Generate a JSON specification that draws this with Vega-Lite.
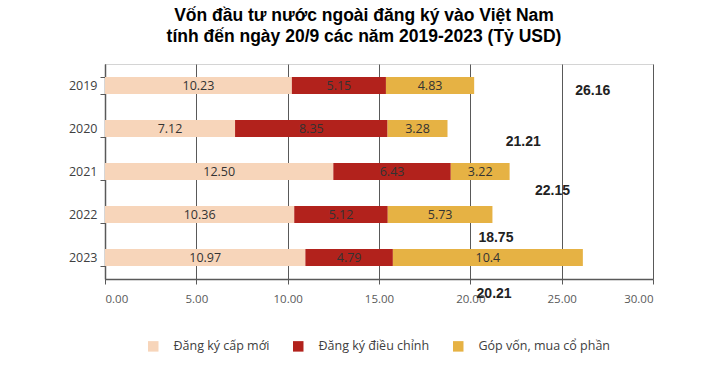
{
  "$schema": "https://vega.github.io/schema/vega-lite/v6.json",
  "width": 548,
  "height": 215,
  "autosize": "none",
  "padding": {"left": 105, "top": 64, "right": 67, "bottom": 111},
  "background": "white",
  "title": {
    "text": ["Vốn đầu tư nước ngoài đăng ký vào Việt Nam", "tính đến ngày 20/9 các năm 2019-2023 (Tỷ USD)"],
    "font": "Liberation Sans",
    "fontSize": 17.5,
    "fontWeight": "bold",
    "color": "#000000",
    "anchor": "middle",
    "dx": -15,
    "offset": 13,
    "lineHeight": 21
  },
  "config": {
    "view": {"stroke": "#d4d4d4", "strokeWidth": 1},
    "axis": {"labelFont": "Open Sans", "domainColor": "#595959", "tickColor": "#595959"}
  },
  "datasets": {
    "von": [
      {"nam": "2019", "loai": "Đăng ký cấp mới", "thu_tu": 1, "gia_tri": 10.23, "nhan": "10.23"},
      {"nam": "2019", "loai": "Đăng ký điều chỉnh", "thu_tu": 2, "gia_tri": 5.15, "nhan": "5.15"},
      {"nam": "2019", "loai": "Góp vốn, mua cổ phần", "thu_tu": 3, "gia_tri": 4.83, "nhan": "4.83"},
      {"nam": "2020", "loai": "Đăng ký cấp mới", "thu_tu": 1, "gia_tri": 7.12, "nhan": "7.12"},
      {"nam": "2020", "loai": "Đăng ký điều chỉnh", "thu_tu": 2, "gia_tri": 8.35, "nhan": "8.35"},
      {"nam": "2020", "loai": "Góp vốn, mua cổ phần", "thu_tu": 3, "gia_tri": 3.28, "nhan": "3.28"},
      {"nam": "2021", "loai": "Đăng ký cấp mới", "thu_tu": 1, "gia_tri": 12.5, "nhan": "12.50"},
      {"nam": "2021", "loai": "Đăng ký điều chỉnh", "thu_tu": 2, "gia_tri": 6.43, "nhan": "6.43"},
      {"nam": "2021", "loai": "Góp vốn, mua cổ phần", "thu_tu": 3, "gia_tri": 3.22, "nhan": "3.22"},
      {"nam": "2022", "loai": "Đăng ký cấp mới", "thu_tu": 1, "gia_tri": 10.36, "nhan": "10.36"},
      {"nam": "2022", "loai": "Đăng ký điều chỉnh", "thu_tu": 2, "gia_tri": 5.12, "nhan": "5.12"},
      {"nam": "2022", "loai": "Góp vốn, mua cổ phần", "thu_tu": 3, "gia_tri": 5.73, "nhan": "5.73"},
      {"nam": "2023", "loai": "Đăng ký cấp mới", "thu_tu": 1, "gia_tri": 10.97, "nhan": "10.97"},
      {"nam": "2023", "loai": "Đăng ký điều chỉnh", "thu_tu": 2, "gia_tri": 4.79, "nhan": "4.79"},
      {"nam": "2023", "loai": "Góp vốn, mua cổ phần", "thu_tu": 3, "gia_tri": 10.4, "nhan": "10.4"}
    ],
    "tong": [
      {"tong_von": "26.16", "vi_tri_x": 26.7, "vi_tri_y": 0.63},
      {"tong_von": "21.21", "vi_tri_x": 22.9, "vi_tri_y": 1.81},
      {"tong_von": "22.15", "vi_tri_x": 24.5, "vi_tri_y": 2.95},
      {"tong_von": "18.75", "vi_tri_x": 21.4, "vi_tri_y": 4.05},
      {"tong_von": "20.21", "vi_tri_x": 21.3, "vi_tri_y": 5.36}
    ]
  },
  "layer": [
    {
      "data": {"name": "von"},
      "transform": [
        {"stack": "gia_tri", "groupby": ["nam"], "sort": [{"field": "thu_tu", "order": "ascending"}], "as": ["dau", "cuoi"]},
        {"calculate": "(datum.dau + datum.cuoi) / 2", "as": "giua"}
      ],
      "layer": [
        {
          "mark": {"type": "bar"},
          "encoding": {
            "y": {
              "field": "nam", "type": "nominal", "title": null,
              "scale": {"paddingInner": 0.6, "paddingOuter": 0.3},
              "axis": {"tickBand": "extent", "tickSize": 5, "labelPadding": 3, "labelFontSize": 12.5, "labelColor": "#404040", "grid": false, "domainWidth": 1.5}
            },
            "x": {
              "field": "dau", "type": "quantitative", "title": null,
              "scale": {"domain": [0, 30], "nice": false},
              "axis": {"values": [0, 5, 10, 15, 20, 25, 30], "format": ".2f", "grid": true, "gridColor": "#595959", "gridWidth": 1, "tickSize": 5, "labelPadding": 9, "labelFontSize": 11.5, "labelColor": "#595959", "domainWidth": 1.5}
            },
            "x2": {"field": "cuoi"},
            "color": {
              "field": "loai", "type": "nominal",
              "scale": {
                "domain": ["Đăng ký cấp mới", "Đăng ký điều chỉnh", "Góp vốn, mua cổ phần"],
                "range": ["#F7D5BA", "#B2221C", "#E6B244"]
              },
              "legend": {
                "orient": "none", "legendX": 42, "legendY": 276, "direction": "horizontal", "title": null,
                "symbolType": "square", "symbolSize": 110, "symbolStrokeWidth": 0,
                "labelFont": "Open Sans", "labelFontSize": 12.5, "labelColor": "#404040", "labelOffset": 14,
                "columnPadding": 22
              }
            }
          }
        },
        {
          "mark": {"type": "text", "font": "Open Sans", "fontSize": 12.5, "color": "#333333"},
          "encoding": {
            "y": {"field": "nam", "type": "nominal"},
            "x": {"field": "giua", "type": "quantitative"},
            "text": {"field": "nhan"}
          }
        }
      ]
    },
    {
      "data": {"name": "tong"},
      "mark": {"type": "text", "font": "Liberation Sans", "fontWeight": "bold", "fontSize": 14, "color": "#222222"},
      "encoding": {
        "x": {"field": "vi_tri_x", "type": "quantitative"},
        "y": {"field": "vi_tri_y", "type": "quantitative", "scale": {"domain": [0, 5], "reverse": true, "nice": false, "zero": false}, "axis": null},
        "text": {"field": "tong_von"}
      }
    }
  ],
  "resolve": {"scale": {"y": "independent"}}
}
